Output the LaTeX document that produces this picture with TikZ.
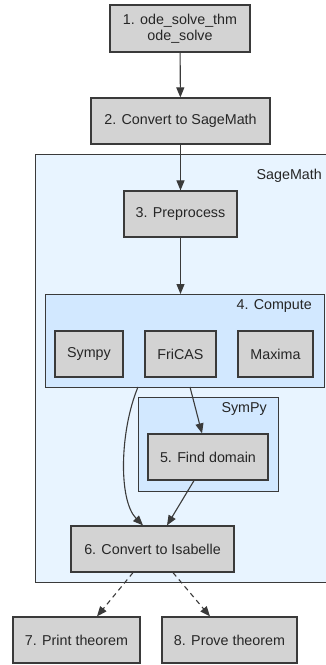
\documentclass[tikz,border=0pt]{standalone}
\usepackage{fontspec}
\setmainfont{Liberation Sans}
\usetikzlibrary{arrows.meta}
\definecolor{nodegray}{HTML}{D3D3D3}
\definecolor{sageblue}{HTML}{E8F4FF}
\definecolor{computeblue}{HTML}{D2E8FF}
\definecolor{edgegray}{HTML}{3A3A3A}
\tikzset{
    stepbox/.style={draw=edgegray, line width=1.2pt, fill=nodegray, minimum height=46pt,
        inner sep=0pt, font=\fontsize{14.3}{16}\selectfont, text=black!85, align=center},
    clusterbox/.style={draw=edgegray, line width=1.1pt, inner sep=0pt, anchor=north west},
    clusterlabel/.style={anchor=east, inner sep=0pt, font=\fontsize{14.3}{16}\selectfont, text=black!85},
    flow/.style={draw=edgegray, line width=1.1pt, -{Triangle[length=10pt,width=8pt]}},
    maybeflow/.style={flow, dashed, dash pattern=on 5pt off 4pt}
}

\begin{document}
\begin{tikzpicture}[x=1pt, y=-1pt]
                \useasboundingbox (0,0) rectangle (325,665);

                \node[clusterbox, fill=sageblue, minimum width=292pt, minimum height=428pt] (sage) at (35,154) {};
                \node[clusterlabel] (sagelabel) at (322,176) {SageMath};

                \node[clusterbox, fill=computeblue, minimum width=279pt, minimum height=93pt] (compute) at (45,294) {};
                \node[clusterlabel] (computelabel) at (312,306) {4. Compute};

                \node[clusterbox, fill=computeblue, minimum width=140pt, minimum height=94pt] (sympyc) at (138,397) {};
                \node[clusterlabel] (sympylabel) at (267,409) {SymPy};

                \node[stepbox, minimum width=140pt, minimum height=47pt] (n1) at (180,28.5) {1. ode\_solve\_thm\\ode\_solve};
                \node[stepbox, minimum width=179pt] (n2) at (180.5,121) {2. Convert to SageMath};
                \node[stepbox, minimum width=113pt] (n3) at (180.5,214) {3. Preprocess};

                \node[stepbox, minimum width=68pt] (sympy) at (89,354) {Sympy};
                \node[stepbox, minimum width=71pt] (fricas) at (180.5,354) {FriCAS};
                \node[stepbox, minimum width=75pt] (maxima) at (275.5,354) {Maxima};

                \node[stepbox, minimum width=120pt] (n5) at (208,457) {5. Find domain};
                \node[stepbox, minimum width=163pt] (n6) at (152.5,549) {6. Convert to Isabelle};

                \node[stepbox, minimum width=127pt] (n7) at (76.5,640) {7. Print theorem};
                \node[stepbox, minimum width=135pt] (n8) at (229.5,640) {8. Prove theorem};

                \coordinate (fricasout) at (190,387);
                \coordinate (computeout) at (138,387);

                \draw[flow] (n1) -- (n2);
                \draw[flow] (n2) -- (n3);
                \draw[flow] (n3) -- (n3 |- compute.north);
                \draw[flow] (fricasout) -- ([xshift=-6pt]n5.north);
                \draw[flow] (computeout) .. controls (120,430) and (118,500) .. ([xshift=-9.5pt]n6.north);
                \draw[flow] ([xshift=-14pt]n5.south) -- ([xshift=14.5pt]n6.north);

                \draw[maybeflow] ([xshift=-19.5pt]n6.south) -- ([xshift=20.5pt]n7.north);
                \draw[maybeflow] ([xshift=20.5pt]n6.south) -- ([xshift=-19.5pt]n8.north);
            \end{tikzpicture}
\end{document}
